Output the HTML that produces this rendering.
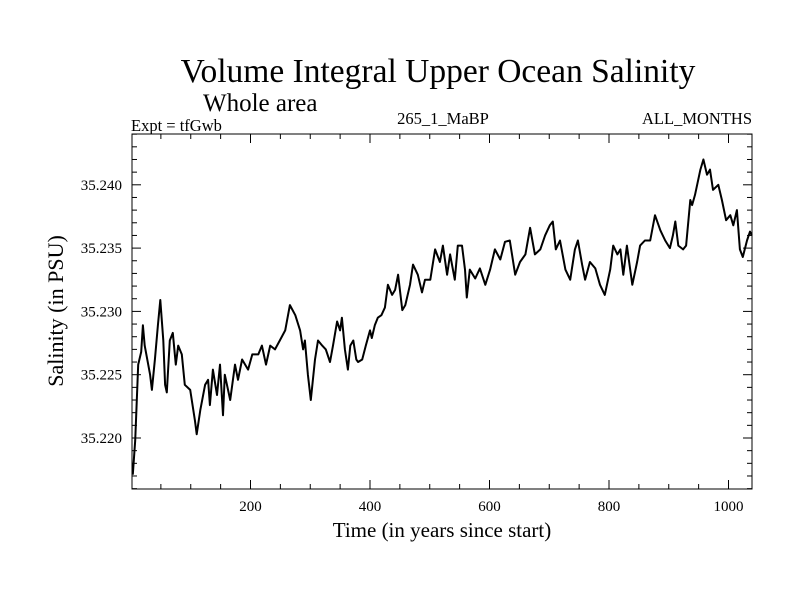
<!DOCTYPE html>
<html><head><meta charset="utf-8"><style>
body{margin:0;background:#fff}
svg{display:block;font-family:"Liberation Serif",serif}
</style></head><body>
<svg id="chart" width="800" height="600" viewBox="0 0 800 600">
<rect width="800" height="600" fill="#fff"/>
<text x="438" y="82" font-size="33.5" text-anchor="middle">Volume Integral Upper Ocean Salinity</text>
<text x="203" y="111" font-size="25">Whole area</text>
<text x="131" y="131" font-size="16.5">Expt = tfGwb</text>
<text x="443" y="124" font-size="16.5" text-anchor="middle">265_1_MaBP</text>
<text x="752" y="124" font-size="16.5" text-anchor="end">ALL_MONTHS</text>
<text x="442" y="537" font-size="21" text-anchor="middle">Time (in years since start)</text>
<text transform="translate(63,311) rotate(-90)" font-size="22" text-anchor="middle">Salinity (in PSU)</text>
<g id="ticks"></g>
<polyline id="series" fill="none" stroke="#000" stroke-width="2" stroke-linejoin="round"/>
<rect x="132" y="134" width="620" height="355" fill="none" stroke="#000" stroke-width="1"/>
</svg>
<script>
const years=[3,7,12,17,20,23,32,35,40,45,49,54,57,60,65,70,75,79,85,90,99,107,110,116,124,129,132,137,144,149,154,157,166,174,179,186,196,203,213,219,226,233,241,249,258,266,275,283,288,291,296,301,308,313,320,326,333,338,345,350,353,358,363,367,372,377,380,387,393,400,403,408,413,419,425,430,437,442,447,454,459,467,472,480,487,492,501,509,517,522,529,534,542,547,554,559,562,567,576,584,593,601,609,618,626,634,643,651,660,668,676,685,693,701,706,711,718,727,735,743,748,755,760,768,777,785,793,802,807,814,819,824,830,839,847,852,860,869,877,886,894,902,907,911,916,924,929,936,939,944,953,958,964,969,974,983,989,996,1003,1008,1014,1019,1024,1031,1036,1039];
const salinity=[35.2171,35.2198,35.2258,35.2268,35.2289,35.2273,35.2250,35.2238,35.2262,35.2289,35.2309,35.2277,35.2242,35.2236,35.2277,35.2283,35.2258,35.2273,35.2266,35.2242,35.2238,35.2214,35.2203,35.2222,35.2242,35.2246,35.2226,35.2254,35.2234,35.2258,35.2218,35.2250,35.2230,35.2258,35.2246,35.2262,35.2254,35.2266,35.2266,35.2273,35.2258,35.2273,35.2270,35.2277,35.2285,35.2305,35.2297,35.2285,35.2270,35.2277,35.2250,35.2230,35.2262,35.2277,35.2273,35.2270,35.2260,35.2273,35.2292,35.2285,35.2295,35.2270,35.2254,35.2273,35.2277,35.2262,35.2260,35.2262,35.2273,35.2285,35.2279,35.2289,35.2295,35.2297,35.2303,35.2321,35.2313,35.2317,35.2329,35.2301,35.2305,35.2321,35.2337,35.2329,35.2315,35.2325,35.2325,35.2349,35.2339,35.2352,35.2329,35.2345,35.2325,35.2352,35.2352,35.2333,35.2311,35.2333,35.2326,35.2334,35.2321,35.2333,35.2349,35.2341,35.2355,35.2356,35.2329,35.2339,35.2345,35.2366,35.2345,35.2349,35.2360,35.2368,35.2371,35.2349,35.2356,35.2333,35.2325,35.2349,35.2356,35.2337,35.2325,35.2339,35.2334,35.2321,35.2313,35.2333,35.2352,35.2345,35.2349,35.2329,35.2352,35.2321,35.2339,35.2352,35.2356,35.2356,35.2376,35.2364,35.2356,35.2350,35.2360,35.2371,35.2352,35.2349,35.2352,35.2388,35.2384,35.2392,35.2412,35.2420,35.2408,35.2412,35.2396,35.2400,35.2388,35.2372,35.2376,35.2368,35.2380,35.2349,35.2343,35.2356,35.2363,35.2360];
const xTicks=[200,400,600,800,1000];
const yTicks=[35.220,35.225,35.230,35.235,35.240];
const NS="http://www.w3.org/2000/svg";
const L=132,R=752,T=134,B=489;
function xs(v){return 131+(v)*0.5975;}
function ys(v){return 438-(v-35.220)*12660;}
const tg=document.getElementById('ticks');
function line(x1,y1,x2,y2,name){const l=document.createElementNS(NS,'line');l.setAttribute('x1',x1);l.setAttribute('y1',y1);l.setAttribute('x2',x2);l.setAttribute('y2',y2);l.setAttribute('stroke','#000');l.setAttribute('stroke-width','1');


tg.appendChild(l);}
function label(x,y,t,anchor,name){const e=document.createElementNS(NS,'text');e.setAttribute('x',x);e.setAttribute('y',y);e.setAttribute('font-size','15');e.setAttribute('text-anchor',anchor);e.textContent=t;


tg.appendChild(e);}
for(let v=50;v<1040;v+=50){const x=xs(v);const major=v%200===0;const len=major?9:5;
line(x,B,x,B-len,'x-tick');line(x,T,x,T+len,'x-tick-top');}
xTicks.forEach(v=>label(xs(v),511,String(v),'middle','x-tick-label'));
for(let k=0;k<=28;k++){const v=35.216+k*0.001;const y=ys(v);if(y<T||y>B)continue;const major=Math.abs((v*1000)%5)<1e-6||Math.abs((v*1000)%5-5)<1e-6;const len=major?9:5;
line(L,y,L+len,y,'y-tick');line(R,y,R-len,y,'y-tick-right');}
yTicks.forEach(v=>label(122,ys(v)+5,v.toFixed(3),'end','y-tick-label'));
document.getElementById('series').setAttribute('points',years.map((y,i)=>xs(y).toFixed(1)+','+ys(salinity[i]).toFixed(1)).join(' '));
</script>
</body></html>
